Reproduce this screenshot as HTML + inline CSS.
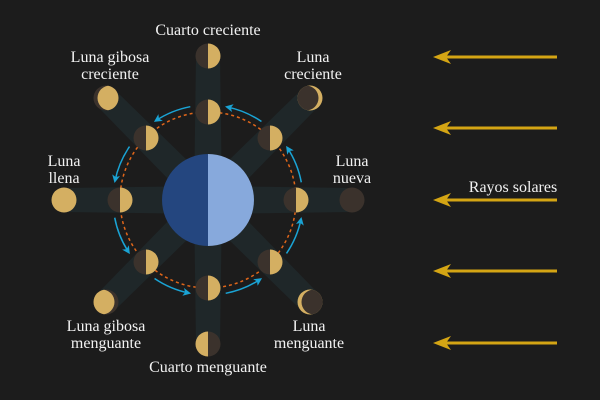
<!DOCTYPE html>
<html><head><meta charset="utf-8"><style>
html,body{margin:0;padding:0;background:#1c1c1c;}
svg{display:block;}
text{font-family:"Liberation Serif",serif;font-size:16px;fill:#f2f2f2;text-anchor:middle;}
</style></head><body>
<svg width="600" height="400" viewBox="0 0 600 400" xmlns="http://www.w3.org/2000/svg">
<defs>
<marker id="ba" markerWidth="8" markerHeight="8" refX="6" refY="4" orient="auto" markerUnits="userSpaceOnUse">
<path d="M0,0 L8,4 L0,8 L2,4 Z" fill="#1aa3d4"/>
</marker>
<clipPath id="c1"><circle cx="0" cy="0" r="12.5"/></clipPath>
</defs>
<rect width="600" height="400" fill="#1c1c1c"/>
<g fill="#1f2729">
<polygon points="194,200 196,56 220,56 222,200" transform="rotate(0 208 200)"/>
<polygon points="194,200 196,56 220,56 222,200" transform="rotate(45 208 200)"/>
<polygon points="194,200 196,56 220,56 222,200" transform="rotate(90 208 200)"/>
<polygon points="194,200 196,56 220,56 222,200" transform="rotate(135 208 200)"/>
<polygon points="194,200 196,56 220,56 222,200" transform="rotate(180 208 200)"/>
<polygon points="194,200 196,56 220,56 222,200" transform="rotate(225 208 200)"/>
<polygon points="194,200 196,56 220,56 222,200" transform="rotate(270 208 200)"/>
<polygon points="194,200 196,56 220,56 222,200" transform="rotate(315 208 200)"/>
</g>
<circle cx="208" cy="200" r="88" fill="none" stroke="#e0661a" stroke-width="1.5" stroke-dasharray="3,3"/>
<g fill="none" stroke="#1aa3d4" stroke-width="1.5" marker-end="url(#ba)">
<path d="M 190.3 106.7 A 95 95 0 0 0 155.6 120.8"/>
<path d="M 190.3 106.7 A 95 95 0 0 0 155.6 120.8" transform="rotate(45 208 200)"/>
<path d="M 190.3 106.7 A 95 95 0 0 0 155.6 120.8" transform="rotate(90 208 200)"/>
<path d="M 190.3 106.7 A 95 95 0 0 0 155.6 120.8" transform="rotate(135 208 200)"/>
<path d="M 190.3 106.7 A 95 95 0 0 0 155.6 120.8" transform="rotate(180 208 200)"/>
<path d="M 190.3 106.7 A 95 95 0 0 0 155.6 120.8" transform="rotate(225 208 200)"/>
<path d="M 190.3 106.7 A 95 95 0 0 0 155.6 120.8" transform="rotate(270 208 200)"/>
<path d="M 190.3 106.7 A 95 95 0 0 0 155.6 120.8" transform="rotate(315 208 200)"/>
</g>
<path d="M208,154 A46,46 0 0 0 208,246 Z" fill="#24467f"/>
<path d="M208,154 A46,46 0 0 1 208,246 Z" fill="#87a9dc"/>
<g>
<g transform="translate(208,112)"><circle r="12.5" fill="#3b322c"/><path d="M0,-12.5 A12.5,12.5 0 0 1 0,12.5Z" fill="#d4af62"/></g>
<g transform="translate(270,138)"><circle r="12.5" fill="#3b322c"/><path d="M0,-12.5 A12.5,12.5 0 0 1 0,12.5Z" fill="#d4af62"/></g>
<g transform="translate(296,200)"><circle r="12.5" fill="#3b322c"/><path d="M0,-12.5 A12.5,12.5 0 0 1 0,12.5Z" fill="#d4af62"/></g>
<g transform="translate(270,262)"><circle r="12.5" fill="#3b322c"/><path d="M0,-12.5 A12.5,12.5 0 0 1 0,12.5Z" fill="#d4af62"/></g>
<g transform="translate(208,288)"><circle r="12.5" fill="#3b322c"/><path d="M0,-12.5 A12.5,12.5 0 0 1 0,12.5Z" fill="#d4af62"/></g>
<g transform="translate(146,262)"><circle r="12.5" fill="#3b322c"/><path d="M0,-12.5 A12.5,12.5 0 0 1 0,12.5Z" fill="#d4af62"/></g>
<g transform="translate(120,200)"><circle r="12.5" fill="#3b322c"/><path d="M0,-12.5 A12.5,12.5 0 0 1 0,12.5Z" fill="#d4af62"/></g>
<g transform="translate(146,138)"><circle r="12.5" fill="#3b322c"/><path d="M0,-12.5 A12.5,12.5 0 0 1 0,12.5Z" fill="#d4af62"/></g>
</g>
<g transform="translate(208,56)"><circle r="12.5" fill="#3b322c"/><path d="M0,-12.5 A12.5,12.5 0 0 1 0,12.5Z" fill="#d4af62"/></g>
<g transform="translate(310,98)"><circle r="12.5" fill="#d4af62"/><circle cx="-4" r="12.5" fill="#3b322c" clip-path="url(#c1)"/></g>
<g transform="translate(352,200)"><circle r="12.5" fill="#3b322c"/></g>
<g transform="translate(310,302)"><circle r="12.5" fill="#d4af62"/><circle cx="4" r="12.5" fill="#3b322c" clip-path="url(#c1)"/></g>
<g transform="translate(208,344)"><circle r="12.5" fill="#3b322c"/><path d="M0,-12.5 A12.5,12.5 0 0 0 0,12.5Z" fill="#d4af62"/></g>
<g transform="translate(106,302)"><circle r="12.5" fill="#3b322c"/><circle cx="-4" r="12.5" fill="#d4af62" clip-path="url(#c1)"/></g>
<g transform="translate(64,200)"><circle r="12.5" fill="#d4af62"/></g>
<g transform="translate(106,98)"><circle r="12.5" fill="#3b322c"/><circle cx="4" r="12.5" fill="#d4af62" clip-path="url(#c1)"/></g>
<g stroke="#d4a514" stroke-width="3" fill="#d4a514">
<line x1="557" y1="57" x2="445" y2="57"/><path d="M433,57 L451,50 L446,57 L451,64 Z" stroke="none"/>
<line x1="557" y1="128" x2="445" y2="128"/><path d="M433,128 L451,121 L446,128 L451,135 Z" stroke="none"/>
<line x1="557" y1="200" x2="445" y2="200"/><path d="M433,200 L451,193 L446,200 L451,207 Z" stroke="none"/>
<line x1="557" y1="271" x2="445" y2="271"/><path d="M433,271 L451,264 L446,271 L451,278 Z" stroke="none"/>
<line x1="557" y1="343" x2="445" y2="343"/><path d="M433,343 L451,336 L446,343 L451,350 Z" stroke="none"/>
</g>
<text x="208" y="35">Cuarto creciente</text>
<text x="110" y="62">Luna gibosa</text>
<text x="110" y="79">creciente</text>
<text x="313" y="62">Luna</text>
<text x="313" y="79">creciente</text>
<text x="64" y="166">Luna</text>
<text x="64" y="183">llena</text>
<text x="352" y="166">Luna</text>
<text x="352" y="183">nueva</text>
<text x="106" y="331">Luna gibosa</text>
<text x="106" y="348">menguante</text>
<text x="309" y="331">Luna</text>
<text x="309" y="348">menguante</text>
<text x="208" y="372">Cuarto menguante</text>
<text x="513" y="192">Rayos solares</text>
</svg>
</body></html>
